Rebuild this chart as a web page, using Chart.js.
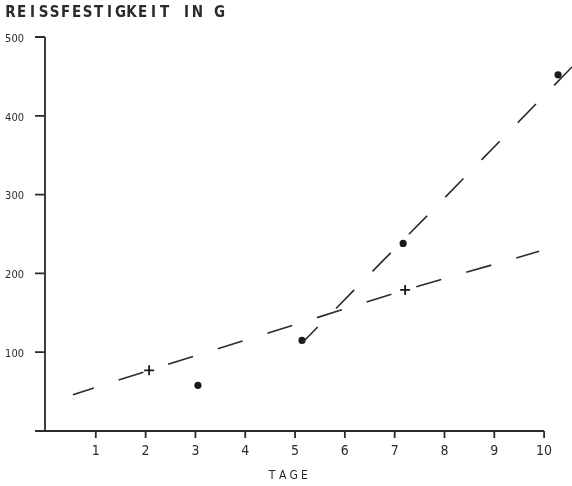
<!DOCTYPE html>
<html>
<head>
<meta charset="utf-8">
<title>Reissfestigkeit</title>
<script src="https://cdn.jsdelivr.net/npm/chart.js@4.4.1/dist/chart.umd.min.js"></script>
<style>
  body { margin: 0; background: #fff; }
  #chart { display: block; }
</style>
</head>
<body>
<canvas id="chart" width="572" height="486"></canvas>
<script>
// values
const dotDays = [3.05, 5.14, 7.17, 10.28];
const dotValues = [58, 115, 238, 452];
const crossDays = [2.07, 7.21];
const crossValues = [77, 179];
// dashed lines
const lineADays = [5.16, 7.65, 10.56];
const lineAValues = [113, 273, 462];
const lineBDays = [0.54, 2.07, 7.21, 9.9];
const lineBValues = [46, 77, 179, 228];

const xTicks = [1, 2, 3, 4, 5, 6, 7, 8, 9, 10];
const yTicks = [100, 200, 300, 400, 500];
const yTitle = 'REISSFESTIGKEIT IN G';
const xTitle = 'TAGE';

const ink = '#2b2b2b';

const toPoints = (xs, ys) => xs.map((x, i) => ({ x: x, y: ys[i] }));

// spaced text, each letter centred in a fixed-width cell
const spacedText = (ctx, text, x, y, pitch) => {
    ctx.textAlign = 'center';
    for (let i = 0; i < text.length; i++) {
        ctx.fillText(text[i], x + pitch * i, y);
    }
};

const axesPlugin = {
    id: 'axesPlugin',
    afterDraw(chart) {
        const ctx = chart.ctx;
        const xs = chart.scales.x;
        const ys = chart.scales.y;
        const x0 = xs.getPixelForValue(0) - 1;
        const y0 = ys.getPixelForValue(0);

        ctx.save();
        ctx.strokeStyle = ink;
        ctx.fillStyle = ink;
        ctx.lineWidth = 1.8;

        // y axis with ticks to the left
        ctx.beginPath();
        ctx.moveTo(x0, ys.getPixelForValue(500));
        ctx.lineTo(x0, y0);
        yTicks.forEach(v => {
            const py = ys.getPixelForValue(v);
            ctx.moveTo(x0 - 10, py);
            ctx.lineTo(x0, py);
        });
        // x axis, starting a bit left of the y axis
        ctx.moveTo(x0 - 10, y0);
        ctx.lineTo(xs.getPixelForValue(10), y0);
        xTicks.forEach(v => {
            const px = xs.getPixelForValue(v);
            ctx.moveTo(px, y0);
            ctx.lineTo(px, y0 + 7);
        });
        ctx.stroke();

        // tick labels
        ctx.font = '11px "DejaVu Sans Condensed", "DejaVu Sans", sans-serif';
        ctx.textAlign = 'right';
        ctx.textBaseline = 'middle';
        yTicks.forEach(v => {
            ctx.fillText(String(v), x0 - 21, ys.getPixelForValue(v) + 2);
        });

        ctx.font = '14px "Liberation Sans Narrow", "DejaVu Sans Condensed", sans-serif';
        ctx.textAlign = 'center';
        xTicks.forEach(v => {
            ctx.fillText(String(v), xs.getPixelForValue(v), y0 + 20);
        });

        // titles
        ctx.font = 'bold 15px "Liberation Sans Narrow", "DejaVu Sans Condensed", sans-serif';
        spacedText(ctx, yTitle, 10.5, 13, 11);

        ctx.font = '12px "Liberation Sans Narrow", "DejaVu Sans Condensed", sans-serif';
        spacedText(ctx, xTitle, 272, y0 + 45, 10.8);
        ctx.restore();
    }
};

new Chart(document.getElementById('chart'), {
    type: 'scatter',
    data: {
        datasets: [
            {
                data: toPoints(lineADays, lineAValues),
                showLine: true,
                borderColor: ink,
                borderWidth: 1.6,
                borderDash: [26, 26],
                borderDashOffset: 5,
                pointRadius: 0
            },
            {
                data: toPoints(lineBDays, lineBValues),
                showLine: true,
                borderColor: ink,
                borderWidth: 1.6,
                borderDash: [26, 26],
                borderDashOffset: 4,
                pointRadius: 0
            },
            {
                data: toPoints(dotDays, dotValues),
                pointStyle: 'circle',
                pointRadius: 3.6,
                backgroundColor: '#1a1a1a',
                borderColor: '#1a1a1a',
                borderWidth: 0
            },
            {
                data: toPoints(crossDays, crossValues),
                pointStyle: 'cross',
                pointRadius: 5,
                borderColor: '#1a1a1a',
                borderWidth: 1.8
            }
        ]
    },
    options: {
        responsive: false,
        devicePixelRatio: 1,
        animation: false,
        layout: {
            autoPadding: false,
            padding: { left: 46, right: 0, top: 37, bottom: 55 }
        },
        plugins: {
            legend: { display: false },
            tooltip: { enabled: false }
        },
        scales: {
            x: { type: 'linear', min: 0, max: 10.56, display: false },
            y: { type: 'linear', min: 0, max: 500, display: false }
        }
    },
    plugins: [axesPlugin]
});
</script>
</body>
</html>
